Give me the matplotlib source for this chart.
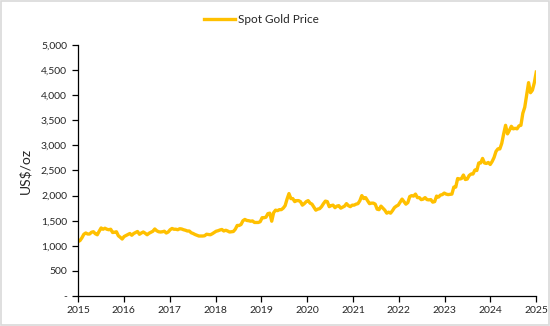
import numpy as np
import matplotlib
matplotlib.use("Agg")
import matplotlib.pyplot as plt
from matplotlib.patches import Rectangle
from matplotlib.ticker import FuncFormatter

# spot gold, two readings per month
gold_price = [
    1085, 1105, 1160, 1230, 1255, 1235, 1235, 1270, 1280, 1240, 1220, 1290,
    1355, 1330, 1350, 1330, 1320, 1330, 1265, 1270, 1280, 1200, 1170, 1135,
    1185, 1205, 1225, 1245, 1210, 1245, 1265, 1285, 1230, 1255, 1275, 1250,
    1220, 1250, 1270, 1290, 1335, 1300, 1280, 1275, 1280, 1290, 1255, 1275,
    1320, 1345, 1330, 1330, 1320, 1340, 1335, 1320, 1310, 1295, 1295, 1260,
    1245, 1225, 1210, 1195, 1195, 1195, 1200, 1230, 1225, 1220, 1240, 1265,
    1290, 1300, 1315, 1325, 1295, 1310, 1295, 1275, 1280, 1285, 1330, 1405,
    1405, 1425, 1500, 1525, 1505, 1500, 1490, 1495, 1465, 1465, 1465, 1480,
    1560, 1560, 1570, 1640, 1650, 1490, 1660, 1710, 1700, 1720, 1720, 1750,
    1800, 1930, 2040, 1940, 1940, 1880, 1900, 1900, 1880, 1810, 1840, 1880,
    1900, 1850, 1830, 1770, 1710, 1730, 1740, 1780, 1840, 1890, 1880, 1780,
    1800, 1810, 1760, 1790, 1800, 1750, 1770, 1790, 1840, 1800, 1780, 1810,
    1810, 1830, 1840, 1900, 2000, 1940, 1960, 1900, 1840, 1850, 1850, 1830,
    1730, 1720, 1790, 1750, 1710, 1650, 1670, 1650, 1700, 1760, 1790, 1810,
    1870, 1930, 1880, 1830, 1860, 1980, 2000, 1990, 2030, 1960, 1960, 1920,
    1930, 1960, 1920, 1915, 1920, 1870, 1880, 1990, 1970, 2010, 2020, 2050,
    2030, 2020, 2025, 2030, 2170, 2170, 2340, 2330, 2340, 2410, 2320, 2330,
    2400, 2430, 2430, 2510, 2500, 2650, 2650, 2740, 2650, 2640, 2660, 2620,
    2680, 2760, 2880, 2930, 2930, 3040, 3230, 3400, 3230, 3300, 3380, 3330,
    3340, 3330, 3390, 3400, 3640, 3760, 4000, 4250, 4050, 4100, 4250, 4460,
]
years = list(range(2015, 2026))
y_ticks = list(range(0, 5001, 500))

gold = "#FFC000"
dark = "#262626"

x = np.linspace(years[0], years[-1], len(gold_price))

plt.rcParams["font.family"] = ["Lato", "DejaVu Sans"]

fig = plt.figure(figsize=(5.5, 3.26), dpi=100)
ax = fig.add_axes([0.142, 0.092, 0.833, 0.77])

ax.plot(x, gold_price, color=gold, linewidth=2.4, label="Spot Gold Price")

ax.set_xlim(years[0], years[-1])
ax.set_ylim(0, 5000)
ax.set_xticks(years)
ax.set_yticks(y_ticks)
ax.yaxis.set_major_formatter(FuncFormatter(lambda v, p: "-" if v == 0 else f"{v:,.0f}"))

for s in ["top", "right"]:
    ax.spines[s].set_visible(False)
for s in ["left", "bottom"]:
    ax.spines[s].set_color("#000000")
    ax.spines[s].set_linewidth(0.9)
ax.tick_params(axis="both", direction="out", length=4, width=0.9, color="#000000",
               labelsize=7.5, labelcolor=dark)
ax.tick_params(axis="x", pad=3)
ax.tick_params(axis="y", pad=4)

ax.set_ylabel("US$/oz", fontsize=10, color=dark, labelpad=7)

leg = fig.legend(loc="center", bbox_to_anchor=(0.476, 0.94), frameon=False,
                 fontsize=8.5, handlelength=2.6, handletextpad=0.3)
for t in leg.get_texts():
    t.set_color(dark)

fig.patches.append(Rectangle((0.001, 0.002), 0.997, 0.995, transform=fig.transFigure,
                             fill=False, edgecolor="#D9D9D9", linewidth=1.2))

fig.savefig("out.png", dpi=100, facecolor="white")
